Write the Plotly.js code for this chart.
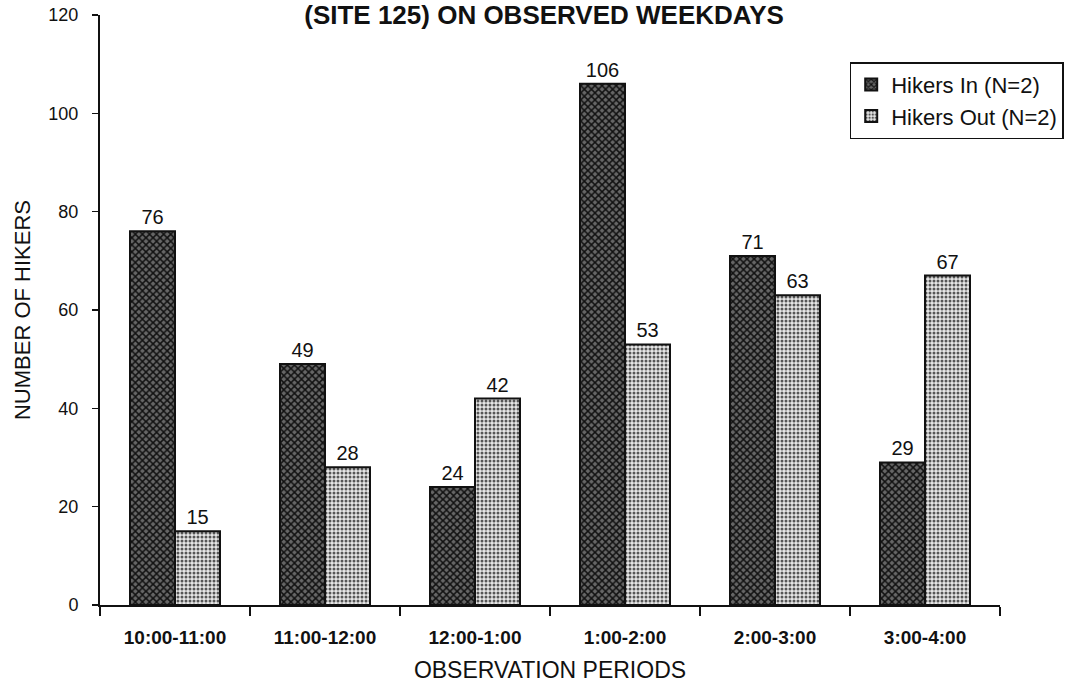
<!DOCTYPE html>
<html>
<head>
<meta charset="utf-8">
<script src="https://cdn.plot.ly/plotly-3.0.1.min.js"></script>
<style>html,body{margin:0;padding:0;background:#fff;}#chart{width:1071px;height:694px;}</style>
</head>
<body>
<div id="chart"></div>
<script>
const periods = ["10:00-11:00", "11:00-12:00", "12:00-1:00", "1:00-2:00", "2:00-3:00", "3:00-4:00"];
const hikersIn = [76, 49, 24, 106, 71, 29];
const hikersOut = [15, 28, 42, 53, 63, 67];
const seriesNames = ["Hikers In (N=2)", "Hikers Out (N=2)"];
const yTicks = [0, 20, 40, 60, 80, 100, 120];

const font = "Arial, 'Liberation Sans', sans-serif";

const traces = [
  {
    type: "bar", name: seriesNames[0], x: periods, y: hikersIn,
    text: hikersIn.map(String), textposition: "outside", cliponaxis: false,
    textfont: {family: font, size: 20, color: "#111"},
    marker: {color: "#555", line: {color: "#111", width: 2},
      pattern: {shape: "x", fgcolor: "#111", bgcolor: "#666", size: 5, solidity: 0.5}}
  },
  {
    type: "bar", name: seriesNames[1], x: periods, y: hikersOut,
    text: hikersOut.map(String), textposition: "outside", cliponaxis: false,
    textfont: {family: font, size: 20, color: "#111"},
    marker: {color: "#ddd", line: {color: "#111", width: 2},
      pattern: {shape: ".", fgcolor: "#555", bgcolor: "#e6e6e6", size: 4, solidity: 0.45}}
  }
];

const layout = {
  width: 1071, height: 694,
  margin: {l: 100, r: 71, t: 15, b: 89, autoexpand: false},
  paper_bgcolor: "#fff", plot_bgcolor: "#fff",
  font: {family: font, color: "#111"},
  title: {text: "<b>(SITE 125) ON OBSERVED WEEKDAYS</b>", font: {family: font, size: 26, color: "#111"},
    x: 0.508, xanchor: "center", yref: "container", y: 0.979, yanchor: "middle", pad: {t: 0, b: 0}},
  barmode: "group", bargap: 0.4, bargroupgap: 0,
  showlegend: true,
  legend: {x: 0.833, y: 0.92, xanchor: "left", yanchor: "top", bgcolor: "#fff",
    bordercolor: "#111", borderwidth: 1.5, font: {family: font, size: 22, color: "#111"},
    itemwidth: 30, tracegroupgap: 0},
  xaxis: {
    type: "category", showline: true, linecolor: "#111", linewidth: 2,
    ticks: "outside", tickson: "boundaries", ticklen: 9, tickwidth: 1.5, tickcolor: "#111",
    ticklabelstandoff: 14,
    tickfont: {family: font, size: 19, color: "#111", weight: "bold"},
    title: {text: "OBSERVATION PERIODS", font: {family: font, size: 23, color: "#111"}, standoff: 15},
    showgrid: false, zeroline: false
  },
  yaxis: {
    range: [0, 120], tickvals: yTicks,
    showline: true, linecolor: "#111", linewidth: 2,
    ticks: "outside", ticklen: 6, tickwidth: 1.5, tickcolor: "#111",
    ticklabelstandoff: 10,
    tickfont: {family: font, size: 18, color: "#111"},
    title: {text: "NUMBER OF HIKERS", font: {family: font, size: 22, color: "#111"}, standoff: 12},
    showgrid: false, zeroline: false
  },
  yaxis2: {
    overlaying: "y", side: "left", range: [0, 120], tickvals: yTicks,
    ticks: "inside", ticklen: 6, tickwidth: 1.5, tickcolor: "#111",
    showticklabels: false, showline: false, showgrid: false, zeroline: false
  }
};

Plotly.newPlot("chart", traces, layout, {displayModeBar: false, staticPlot: true});
</script>
</body>
</html>
